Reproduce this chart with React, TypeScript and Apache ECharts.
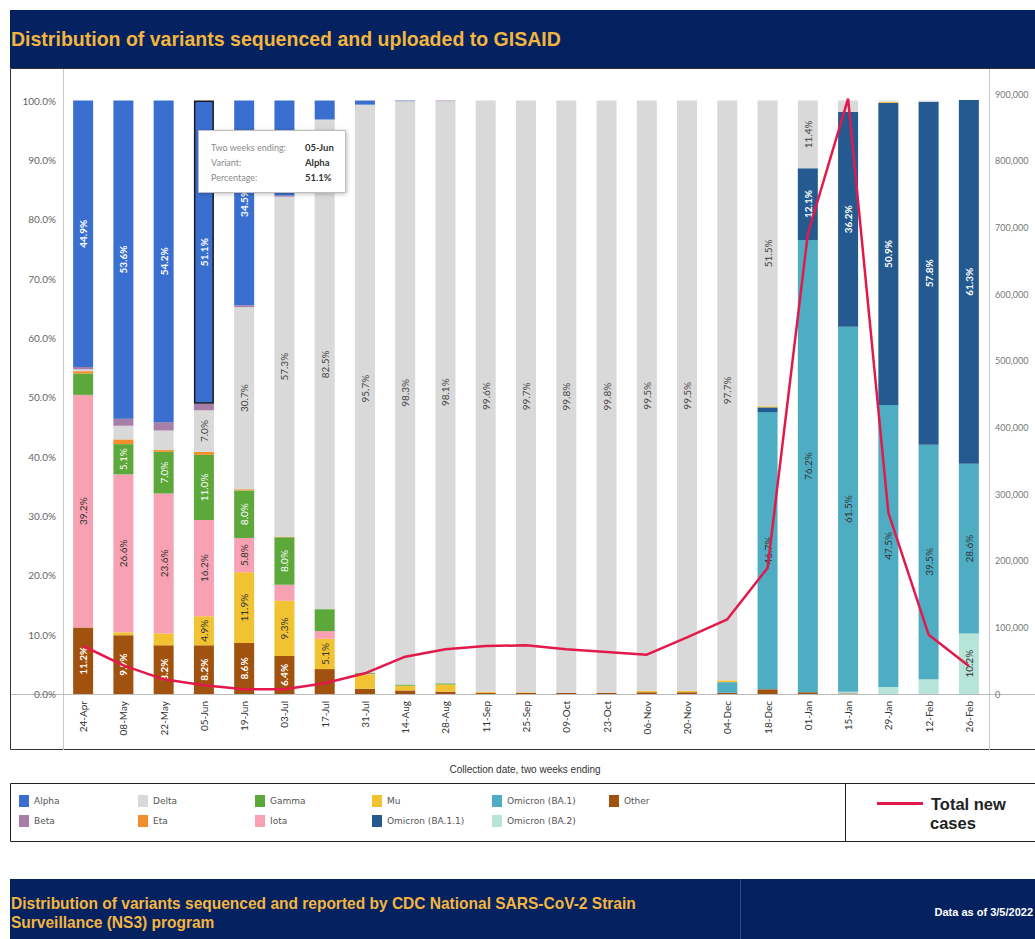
import React, { useEffect, useRef } from "react";
import * as echarts from "echarts";

const categories = ["24-Apr","08-May","22-May","05-Jun","19-Jun","03-Jul","17-Jul","31-Jul","14-Aug","28-Aug","11-Sep","25-Sep","09-Oct","23-Oct","06-Nov","20-Nov","04-Dec","18-Dec","01-Jan","15-Jan","29-Jan","12-Feb","26-Feb"];

const other = [11.2, 9.9, 8.2, 8.2, 8.6, 6.4, 4.2, 0.9, 0.6, 0.4, 0.2, 0.2, 0.2, 0.2, 0.3, 0.3, 0.2, 0.8, 0.3, 0.1, 0, 0, 0];
const omicronBA2 = [0, 0, 0, 0, 0, 0, 0, 0, 0, 0, 0, 0, 0, 0, 0, 0, 0, 0, 0, 0.3, 1.2, 2.5, 10.2];
const omicronBA1 = [0, 0, 0, 0, 0, 0, 0, 0, 0, 0, 0, 0, 0, 0, 0, 0, 1.8, 46.7, 76.2, 61.5, 47.5, 39.5, 28.6];
const omicronBA11 = [0, 0, 0, 0, 0, 0, 0, 0, 0, 0, 0, 0, 0, 0, 0, 0, 0, 0.8, 12.1, 36.2, 50.9, 57.8, 61.3];
const mu = [0, 0.5, 2.0, 4.9, 11.9, 9.3, 5.1, 2.4, 0.8, 1.2, 0.2, 0.1, 0, 0, 0.2, 0.2, 0.3, 0.2, 0, 0, 0.2, 0, 0];
const iota = [39.2, 26.6, 23.6, 16.2, 5.8, 2.7, 1.3, 0.1, 0, 0, 0, 0, 0, 0, 0, 0, 0, 0, 0, 0, 0, 0, 0];
const gamma = [3.6, 5.1, 7.0, 11.0, 8.0, 8.0, 3.7, 0.2, 0.2, 0.2, 0, 0, 0, 0, 0, 0, 0, 0, 0, 0, 0, 0, 0];
const eta = [0.4, 0.8, 0.3, 0.5, 0.2, 0.1, 0, 0, 0, 0, 0, 0, 0, 0, 0, 0, 0, 0, 0, 0, 0, 0, 0];
const delta = [0.3, 2.3, 3.3, 7.0, 30.7, 57.3, 82.5, 95.7, 98.3, 98.1, 99.6, 99.7, 99.8, 99.8, 99.5, 99.5, 97.7, 51.5, 11.4, 1.9, 0.2, 0.2, 0];
const beta = [0.4, 1.2, 1.4, 1.1, 0.3, 0.2, 0, 0, 0, 0.1, 0, 0, 0, 0, 0, 0, 0, 0, 0, 0, 0, 0, 0];
const alpha = [44.9, 53.6, 54.2, 51.1, 34.5, 16.0, 3.2, 0.7, 0.1, 0, 0, 0, 0, 0, 0, 0, 0, 0, 0, 0, 0, 0, 0];

const totalNewCases = [72000, 43000, 22000, 13000, 7000, 7000, 16000, 31000, 56000, 67000, 72000, 73000, 67000, 63000, 59000, 85000, 112000, 189000, 690000, 893000, 272000, 89000, 42000];

const leftTicks = [0, 10, 20, 30, 40, 50, 60, 70, 80, 90, 100];

const variants = [
  { name: "Other", data: other, color: "#a0520e", label: "#ffffff", bold: true },
  { name: "Omicron (BA.2)", data: omicronBA2, color: "#b6e4d8", label: "#333333", bold: false },
  { name: "Omicron (BA.1)", data: omicronBA1, color: "#4fadc3", label: "#333333", bold: false },
  { name: "Omicron (BA.1.1)", data: omicronBA11, color: "#245a8f", label: "#ffffff", bold: true },
  { name: "Mu", data: mu, color: "#f1c232", label: "#333333", bold: false },
  { name: "Iota", data: iota, color: "#f7a1b2", label: "#333333", bold: false },
  { name: "Gamma", data: gamma, color: "#5ca83b", label: "#ffffff", bold: false },
  { name: "Eta", data: eta, color: "#f28e2b", label: "#333333", bold: false },
  { name: "Delta", data: delta, color: "#d9d9d9", label: "#444444", bold: false },
  { name: "Beta", data: beta, color: "#a67ea8", label: "#ffffff", bold: false },
  { name: "Alpha", data: alpha, color: "#3b6fcf", label: "#ffffff", bold: true },
];

const legendColumns = [
  ["Alpha", "Beta"],
  ["Delta", "Eta"],
  ["Gamma", "Iota"],
  ["Mu", "Omicron (BA.1.1)"],
  ["Omicron (BA.1)", "Omicron (BA.2)"],
  ["Other"],
];
const legendX = [14, 133, 250, 367, 487, 604];

const NAVY = "#03225f";
const GOLD = "#f4b53f";
const HEAD_FONT = "'Liberation Sans', Arial, sans-serif";

export default function App() {
  const ref = useRef<HTMLDivElement>(null);
  useEffect(() => {
    if (!ref.current) return;
    const chart = echarts.init(ref.current, null, { renderer: "svg" });

    const barSeries = variants.map((v) => ({
      name: v.name,
      type: "bar",
      stack: "variants",
      barWidth: 20,
      yAxisIndex: 0,
      itemStyle: { color: v.color },
      emphasis: { disabled: true },
      label: {
        show: true,
        position: "inside",
        rotate: 90,
        fontSize: 10,
        fontFamily: "Lato, 'DejaVu Sans', sans-serif",
        fontWeight: v.bold ? "bold" : "normal",
        color: v.label,
        formatter: (p: any) => (p.value >= 4.5 ? p.value.toFixed(1) + "%" : ""),
      },
      data: v.data.map((val, i) =>
        v.name === "Alpha" && categories[i] === "05-Jun"
          ? { value: val, itemStyle: { color: v.color, borderColor: "#1a1a1a", borderWidth: 1.5 } }
          : val
      ),
    }));

    const legends: any[] = legendColumns.map((col, i) => ({
      orient: "vertical",
      left: legendX[i],
      top: 790,
      itemWidth: 10,
      itemHeight: 12,
      itemGap: 8,
      icon: "rect",
      selectedMode: false,
      textStyle: { fontSize: 9, color: "#555", fontFamily: "'DejaVu Sans', sans-serif" },
      data: col,
    }));
    legends.push({
      orient: "horizontal",
      left: 872,
      top: 790,
      itemWidth: 46,
      itemHeight: 3,
      icon: "rect",
      selectedMode: false,
      formatter: () => "Total new",
      textStyle: { fontSize: 16.5, fontWeight: "bold", color: "#222", fontFamily: HEAD_FONT, padding: [0, 0, 0, 3] },
      data: ["Total new cases"],
    });

    const option: any = {
      animation: false,
      tooltip: { show: false },
      legend: legends,
      grid: { left: 63, right: 46, top: 94, bottom: 245, containLabel: false },
      xAxis: {
        type: "category",
        data: categories,
        axisLine: { show: false },
        axisTick: { show: false },
        axisLabel: { rotate: 90, fontSize: 10, color: "#333", margin: 7, fontFamily: "Lato, 'DejaVu Sans', sans-serif" },
      },
      yAxis: [
        {
          type: "value",
          min: 0,
          max: 101.1,
          interval: 10,
          position: "left",
          axisLine: { show: false },
          axisTick: { show: false },
          splitLine: { show: false },
          axisLabel: {
            fontSize: 10,
            color: "#666",
            margin: 7,
            fontFamily: "Lato, 'DejaVu Sans', sans-serif",
            formatter: (v: number) =>
              leftTicks.some((t) => Math.abs(t - v) < 1e-6) ? v.toFixed(1) + "%" : "",
          },
        },
        {
          type: "value",
          min: 0,
          max: 900000,
          interval: 100000,
          position: "right",
          axisLine: { show: false },
          axisTick: { show: false },
          splitLine: { show: false },
          axisLabel: {
            fontSize: 9,
            color: "#777",
            margin: 6,
            fontFamily: "Lato, 'DejaVu Sans', sans-serif",
            formatter: (v: number) => v.toLocaleString("en-US"),
          },
        },
      ],
      series: [
        ...barSeries,
        {
          name: "Total new cases",
          type: "line",
          yAxisIndex: 1,
          data: totalNewCases,
          symbol: "none",
          z: 5,
          lineStyle: { color: "#e3194c", width: 2.5 },
          itemStyle: { color: "#e3194c" },
          emphasis: { disabled: true },
        },
      ],
      graphic: [
        { type: "rect", shape: { x: 10, y: 10, width: 1030, height: 58 }, style: { fill: NAVY } },
        {
          type: "text",
          x: 11,
          y: 39,
          scaleX: 0.93,
          style: {
            text: "Distribution of variants sequenced and uploaded to GISAID",
            fill: GOLD,
            font: "bold 21px " + HEAD_FONT,
            verticalAlign: "middle",
          },
        },
        { type: "rect", shape: { x: 10.5, y: 68.5, width: 1040, height: 681 }, style: { fill: "none", stroke: "#333", lineWidth: 1 } },
        { type: "line", shape: { x1: 63.5, y1: 69, x2: 63.5, y2: 750 }, style: { stroke: "#c8c8c8", lineWidth: 1 } },
        { type: "line", shape: { x1: 989.5, y1: 69, x2: 989.5, y2: 750 }, style: { stroke: "#c8c8c8", lineWidth: 1 } },
        { type: "line", shape: { x1: 11, y1: 694.5, x2: 1035, y2: 694.5 }, style: { stroke: "#bbb", lineWidth: 1 } },
        {
          type: "text",
          x: 525,
          y: 769,
          style: {
            text: "Collection date, two weeks ending",
            fill: "#333",
            font: "10px " + HEAD_FONT,
            align: "center",
            verticalAlign: "middle",
          },
        },
        { type: "rect", shape: { x: 10.5, y: 783.5, width: 1040, height: 58 }, style: { fill: "none", stroke: "#222", lineWidth: 1 } },
        { type: "line", shape: { x1: 845.5, y1: 784, x2: 845.5, y2: 841 }, style: { stroke: "#222", lineWidth: 1 } },
        {
          type: "text",
          x: 930,
          y: 823,
          style: {
            text: "cases",
            fill: "#222",
            font: "bold 16.5px " + HEAD_FONT,
            verticalAlign: "middle",
          },
        },
        { type: "rect", shape: { x: 10, y: 879, width: 1030, height: 62 }, style: { fill: NAVY } },
        { type: "line", shape: { x1: 740.5, y1: 879, x2: 740.5, y2: 939 }, style: { stroke: "#30498a", lineWidth: 1 } },
        {
          type: "text",
          x: 11,
          y: 903,
          scaleX: 0.97,
          style: {
            text: "Distribution of variants sequenced and reported by CDC National SARS-CoV-2 Strain",
            fill: GOLD,
            font: "bold 16px " + HEAD_FONT,
            verticalAlign: "middle",
          },
        },
        {
          type: "text",
          x: 11,
          y: 922,
          scaleX: 0.97,
          style: {
            text: "Surveillance (NS3) program",
            fill: GOLD,
            font: "bold 16px " + HEAD_FONT,
            verticalAlign: "middle",
          },
        },
        {
          type: "text",
          x: 1033,
          y: 912,
          style: {
            text: "Data as of 3/5/2022",
            fill: "#ffffff",
            font: "bold 11px " + HEAD_FONT,
            align: "right",
            verticalAlign: "middle",
          },
        },
        {
          type: "group",
          z: 100,
          children: [
            {
              type: "rect",
              z: 100,
              shape: { x: 198.5, y: 130.5, width: 147, height: 62 },
              style: { fill: "#fff", stroke: "#bdbdbd", lineWidth: 1, shadowBlur: 4, shadowColor: "rgba(0,0,0,0.25)", shadowOffsetX: 1, shadowOffsetY: 1 },
            },
            { type: "text", z: 101, x: 211, y: 147, style: { text: "Two weeks ending:", fill: "#8a8a8a", font: "9px Lato, sans-serif", verticalAlign: "middle" } },
            { type: "text", z: 101, x: 211, y: 162, style: { text: "Variant:", fill: "#8a8a8a", font: "9px Lato, sans-serif", verticalAlign: "middle" } },
            { type: "text", z: 101, x: 211, y: 177, style: { text: "Percentage:", fill: "#8a8a8a", font: "9px Lato, sans-serif", verticalAlign: "middle" } },
            { type: "text", z: 101, x: 305, y: 147, style: { text: "05-Jun", fill: "#333", font: "bold 9.5px Lato, sans-serif", verticalAlign: "middle" } },
            { type: "text", z: 101, x: 305, y: 162, style: { text: "Alpha", fill: "#333", font: "bold 9.5px Lato, sans-serif", verticalAlign: "middle" } },
            { type: "text", z: 101, x: 305, y: 177, style: { text: "51.1%", fill: "#333", font: "bold 9.5px Lato, sans-serif", verticalAlign: "middle" } },
          ],
        },
      ],
    };
    chart.setOption(option);
    return () => chart.dispose();
  }, []);

  return (
    <div
      ref={ref}
      style={{ position: "absolute", left: 0, top: 0, width: 1035, height: 939, background: "#fff" }}
    />
  );
}
